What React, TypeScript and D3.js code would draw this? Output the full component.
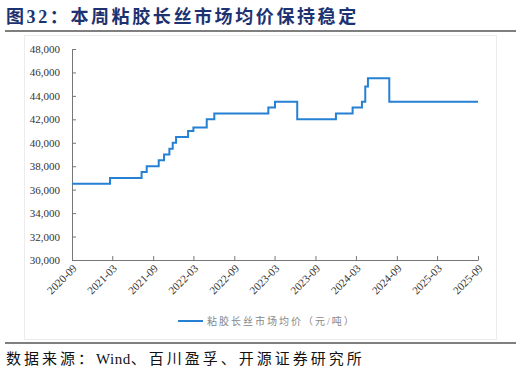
import React, { useEffect, useRef } from 'react';
import * as d3 from 'd3';

// price change dates (weekly series collapsed to its steps)
const stepDates = [
  '2020-09-01', '2021-02-19', '2021-07-11', '2021-08-03', '2021-09-26',
  '2021-10-20', '2021-11-13', '2021-11-28', '2021-12-13', '2022-02-05',
  '2022-03-01', '2022-04-30', '2022-06-03', '2023-02-01', '2023-03-03',
  '2023-06-11', '2023-12-02', '2024-02-15', '2024-03-28', '2024-04-12',
  '2024-04-24', '2024-07-29', '2025-09-01',
];
const stepPrices = [
  36500, 37000, 37500, 38000, 38500,
  39000, 39500, 40000, 40500, 41000,
  41300, 42000, 42500, 43000, 43500,
  42000, 42500, 43000, 43500, 44800,
  45500, 43500, 43500,
];
const xTicks = [
  '2020-09', '2021-03', '2021-09', '2022-03', '2022-09', '2023-03',
  '2023-09', '2024-03', '2024-09', '2025-03', '2025-09',
];
const yTicks = [30000, 32000, 34000, 36000, 38000, 40000, 42000, 44000, 46000, 48000];
const seriesName = '粘胶长丝市场均价（元/吨）';

const W = 521;
const H = 374;
const margin = { top: 49, right: 43, bottom: 114, left: 72 };
const serif = '"Liberation Serif", "Noto Sans CJK SC", serif';

const App = () => {
  const svgRef = useRef<SVGSVGElement>(null);

  useEffect(() => {
    const svg = d3.select(svgRef.current);
    svg.selectAll('*').remove();

    const parse = d3.timeParse('%Y-%m-%d');
    const parseMonth = d3.timeParse('%Y-%m');
    const data = stepDates.map((d, i) => ({ date: parse(d) as Date, value: stepPrices[i] }));

    const width = W - margin.left - margin.right;
    const height = H - margin.top - margin.bottom;

    const x = d3.scaleTime()
      .domain([parseMonth('2020-09') as Date, parseMonth('2025-09') as Date])
      .range([0, width]);
    const y = d3.scaleLinear().domain([30000, 48000]).range([height, 0]);

    // frame lines
    svg.append('rect').attr('x', 24.5).attr('y', 35.5).attr('width', 472).attr('height', 304)
      .attr('fill', 'none').attr('stroke', '#ececec');
    svg.append('line').attr('x1', 5).attr('x2', 516).attr('y1', 31).attr('y2', 31)
      .attr('stroke', '#555').attr('stroke-width', 1.5);
    svg.append('line').attr('x1', 5).attr('x2', 516).attr('y1', 343).attr('y2', 343)
      .attr('stroke', '#555').attr('stroke-width', 1.5);

    svg.append('text').attr('x', 6).attr('y', 23)
      .attr('font-family', serif).attr('font-weight', 'bold')
      .attr('font-size', 18).attr('letter-spacing', 2.6).attr('fill', '#1d3270')
      .text('图32：本周粘胶长丝市场均价保持稳定');

    const src = svg.append('text').attr('x', 6).attr('y', 364)
      .attr('font-family', serif)
      .attr('font-size', 15).attr('fill', '#111');
    src.append('tspan').attr('letter-spacing', 3).text('数据来源：');
    src.append('tspan').attr('letter-spacing', 0.5).text('Wind');
    src.append('tspan').attr('letter-spacing', 3).text('、百川盈孚、开源证券研究所');

    const chart = svg.append('g').attr('transform', `translate(${margin.left},${margin.top})`);

    const yAxis = d3.axisLeft(y).tickValues(yTicks).tickSizeInner(-4).tickSizeOuter(0)
      .tickPadding(12).tickFormat(d3.format(','));
    const yG = chart.append('g').call(yAxis);
    const xAxis = d3.axisBottom(x).tickValues(xTicks.map(t => parseMonth(t) as Date))
      .tickSizeInner(-4).tickSizeOuter(0).tickFormat(d3.timeFormat('%Y-%m') as any);
    const xG = chart.append('g').attr('transform', `translate(0,${height})`).call(xAxis);

    [yG, xG].forEach(g => {
      g.select('.domain').attr('stroke', '#777');
      g.selectAll('.tick line').attr('stroke', '#777');
      g.selectAll('.tick text').attr('font-family', serif)
        .attr('font-size', 11).attr('fill', '#333');
    });
    xG.selectAll('.tick text')
      .attr('text-anchor', 'end')
      .attr('dy', 0)
      .attr('y', 0)
      .attr('transform', 'translate(5,9) rotate(-45)');

    const line = d3.line<{ date: Date; value: number }>()
      .x(d => x(d.date))
      .y(d => y(d.value))
      .curve(d3.curveStepAfter);
    chart.append('path').datum(data).attr('d', line)
      .attr('fill', 'none').attr('stroke', '#2680d4').attr('stroke-width', 2);

    const lg = svg.append('g').attr('transform', 'translate(178,321)');
    lg.append('line').attr('x1', 0).attr('x2', 25).attr('y1', 0).attr('y2', 0)
      .attr('stroke', '#2680d4').attr('stroke-width', 2);
    lg.append('text').attr('x', 29).attr('y', 3.5)
      .attr('font-family', serif).attr('font-size', 10).attr('letter-spacing', 2)
      .attr('fill', '#888').text(seriesName);
  }, []);

  return <svg ref={svgRef} width={W} height={H} style={{ position: 'absolute', left: 0, top: 0 }} />;
};

export default App;
